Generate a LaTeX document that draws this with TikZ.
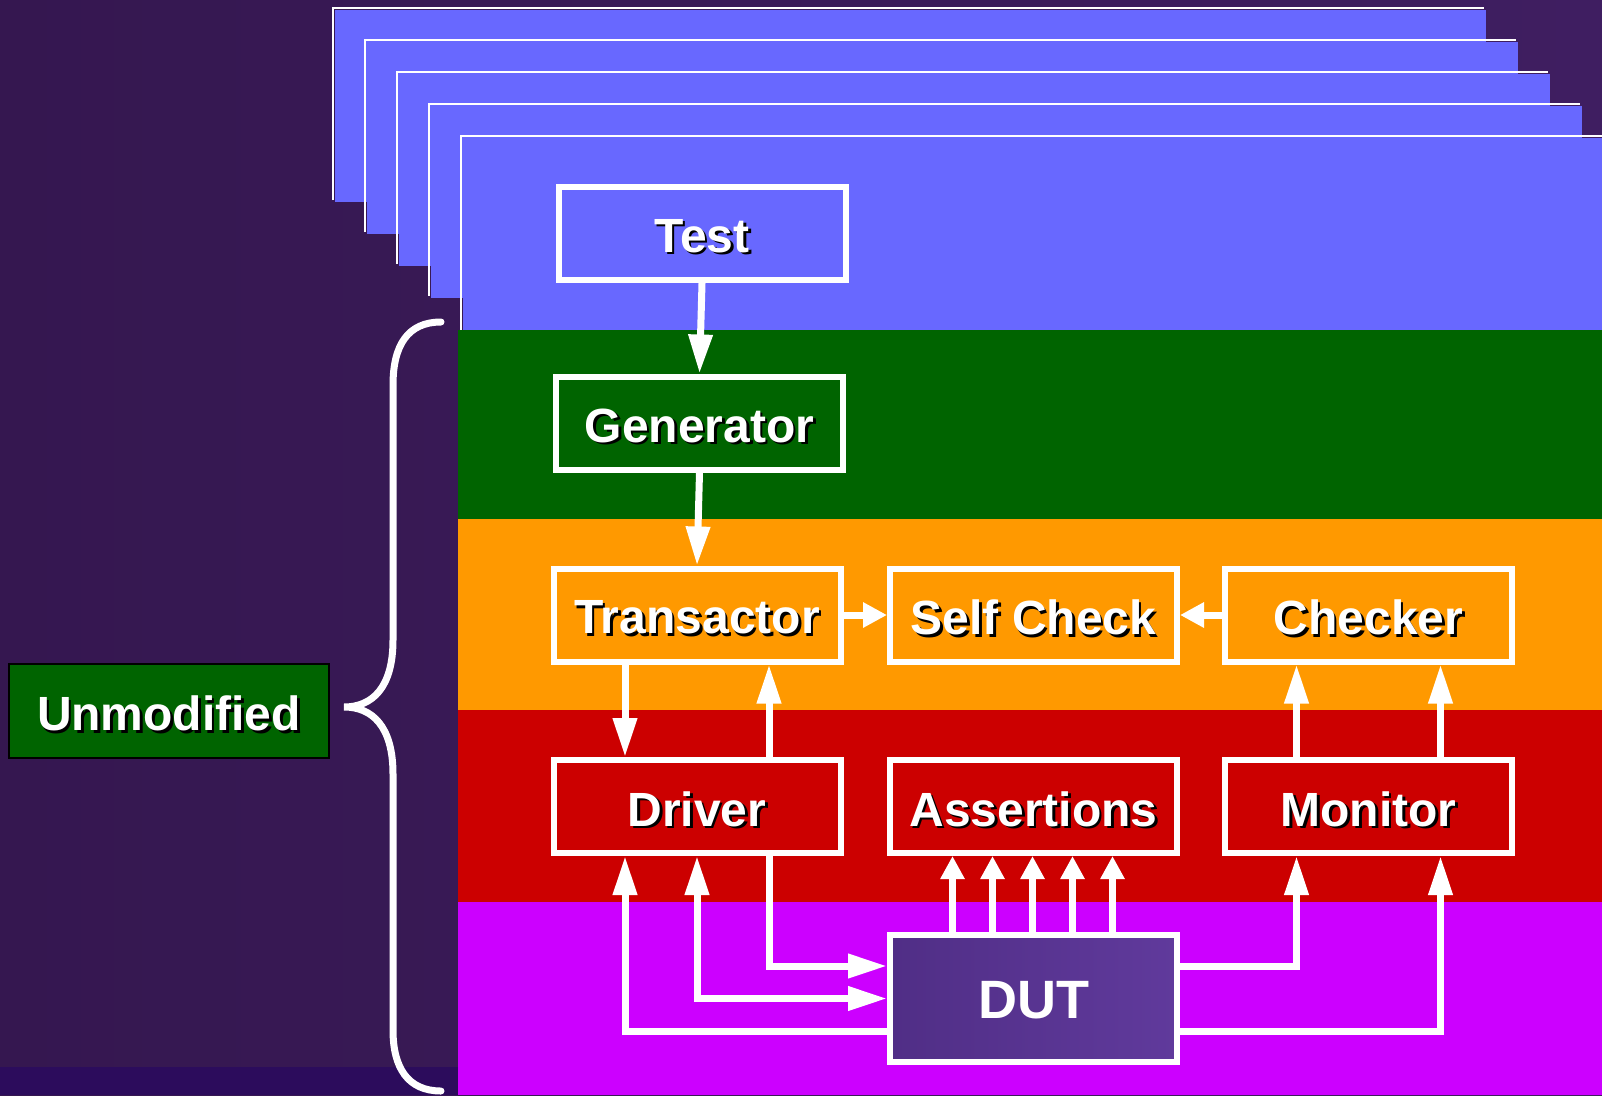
\documentclass[tikz,border=0pt]{standalone}
\usepackage{fontspec}
\setmainfont{Liberation Sans}
\usetikzlibrary{arrows.meta}

\definecolor{bgleft}{RGB}{53,23,80}
\definecolor{bgright}{RGB}{63,30,97}
\definecolor{bgstrip}{RGB}{44,12,92}
\definecolor{pageblue}{RGB}{104,104,255}
\definecolor{bandgreen}{RGB}{0,100,0}
\definecolor{bandorange}{RGB}{255,153,0}
\definecolor{bandred}{RGB}{204,0,0}
\definecolor{bandmagenta}{RGB}{204,0,255}
\definecolor{dutleft}{RGB}{80,46,134}
\definecolor{dutright}{RGB}{96,58,156}

% white label with a black drop shadow, set slightly low in its box
\newcommand\shadowed[1]{\raisebox{-2.5pt}[\height][\depth]{%
  \rlap{\kern2.5pt\smash{\raisebox{-2.5pt}{\textcolor{black}{#1}}}}#1}}
\newcommand\lowered[1]{\raisebox{-2pt}[\height][\depth]{#1}}

\tikzset{
  blockbox/.style={draw=white, line width=6pt, minimum width=287pt,
    minimum height=93pt, inner sep=0pt, text=white,
    font=\fontsize{48}{56}\selectfont\bfseries},
  flow/.style={draw=white, line width=7pt, line join=miter},
  bigarrow/.style={flow, -{Triangle[length=39pt,width=23pt]}},
  botharrow/.style={flow, {Triangle[length=39pt,width=23pt]}-{Triangle[length=39pt,width=23pt]}},
  shortarrow/.style={flow, -{Triangle[length=24pt,width=24pt]}},
  sensearrow/.style={flow, -{Triangle[length=23pt,width=23pt]}},
  pageedge/.style={draw=white, line width=2.4pt},
}

\begin{document}
\begin{tikzpicture}[x=1pt,y=-1pt]
\useasboundingbox (0,0) rectangle (1602,1095);

% backdrop
\shade[left color=bgleft, right color=bgright] (0,0) rectangle (1602,1095);
\fill[bgstrip] (0,1067) rectangle (458,1095);

% stack of test pages behind the front one
\foreach \i in {0,...,3}{
  \pgfmathsetmacro\px{333+32*\i}
  \pgfmathsetmacro\py{8+32*\i}
  \fill[pageblue] (\px+2,\py+2) rectangle (\px+1153,\py+194);
  \draw[pageedge] (\px,\py+192) -- (\px,\py) -- (\px+1151,\py);
}
\fill[pageblue] (463,138) rectangle (1602,331);
\draw[pageedge] (461,331) -- (461,136) -- (1602,136);

% layer bands
\fill[bandgreen]   (458,330) rectangle (1602,519);
\fill[bandorange]  (458,519) rectangle (1602,710);
\fill[bandred]     (458,710) rectangle (1602,902);
\fill[bandmagenta] (458,902) rectangle (1602,1095);

% curly brace grouping the lower layers
\draw[white, line width=7pt, line cap=round]
  (441,322) .. controls (408,322) and (393,345) .. (393,385)
  -- (393,640) .. controls (393,688) and (372,707) .. (344,707)
  .. controls (372,707) and (393,726) .. (393,774)
  -- (393,1030) .. controls (393,1068) and (408,1091) .. (441,1091);

% side label
\node[draw=black, line width=2pt, fill=bandgreen, minimum width=320pt,
  minimum height=94pt, inner sep=0pt, text=white,
  font=\fontsize{48}{56}\selectfont\bfseries] (unmod) at (169,711) {\shadowed{Unmodified}};

% blocks
\node[blockbox, fill=pageblue]   (test)       at (702,233.5)   {\shadowed{Test}};
\node[blockbox, fill=bandgreen]  (generator)  at (699.5,423)   {\shadowed{Generator}};
\node[blockbox, fill=bandorange] (transactor) at (697,615)     {\shadowed{Transactor}};
\node[blockbox, fill=bandorange] (selfcheck)  at (1033.5,615)  {\shadowed{Self Check}};
\node[blockbox, fill=bandorange] (checker)    at (1368.5,615)  {\shadowed{Checker}};
\node[blockbox, fill=bandred]    (driver)     at (697,806.5)   {\shadowed{Driver}};
\node[blockbox, fill=bandred]    (assertions) at (1033.5,806.5){\shadowed{Assertions}};
\node[blockbox, fill=bandred]    (monitor)    at (1368.5,806.5){\shadowed{Monitor}};
\node[blockbox, left color=dutleft, right color=dutright, minimum height=127pt,
  font=\fontsize{54}{60}\selectfont\bfseries] (dut) at (1033.5,998.5) {\lowered{DUT}};

% stimulus path
\draw[bigarrow] (test.south) -- (generator.north);
\draw[bigarrow] (generator.south) -- (transactor.north);
\draw[shortarrow] (transactor.east) -- (selfcheck.west);
\draw[shortarrow] (checker.west) -- (selfcheck.east);
\draw[bigarrow] ([xshift=-72pt]transactor.south) -- ([xshift=-72pt]driver.north);
\draw[bigarrow] ([xshift=72pt]driver.north) -- ([xshift=72pt]transactor.south);

% driver <-> DUT
\draw[bigarrow] ([yshift=-32.5pt]dut.west) -| ([xshift=-72pt]driver.south);
\draw[botharrow] (driver.south) |- (dut.west);
\draw[bigarrow] ([xshift=72pt]driver.south) |- ([yshift=32.5pt]dut.west);

% DUT -> assertions
\foreach \dx in {-81,-41,-1,39,79}
  \draw[sensearrow] ([xshift=\dx pt]dut.north) -- ([xshift=\dx pt]assertions.south);

% DUT -> monitor -> checker
\draw[bigarrow] ([yshift=32.5pt]dut.east) -| ([xshift=-72pt]monitor.south);
\draw[bigarrow] ([yshift=-32.5pt]dut.east) -| ([xshift=72pt]monitor.south);
\draw[bigarrow] ([xshift=-72pt]monitor.north) -- ([xshift=-72pt]checker.south);
\draw[bigarrow] ([xshift=72pt]monitor.north) -- ([xshift=72pt]checker.south);
\end{tikzpicture}
\end{document}
